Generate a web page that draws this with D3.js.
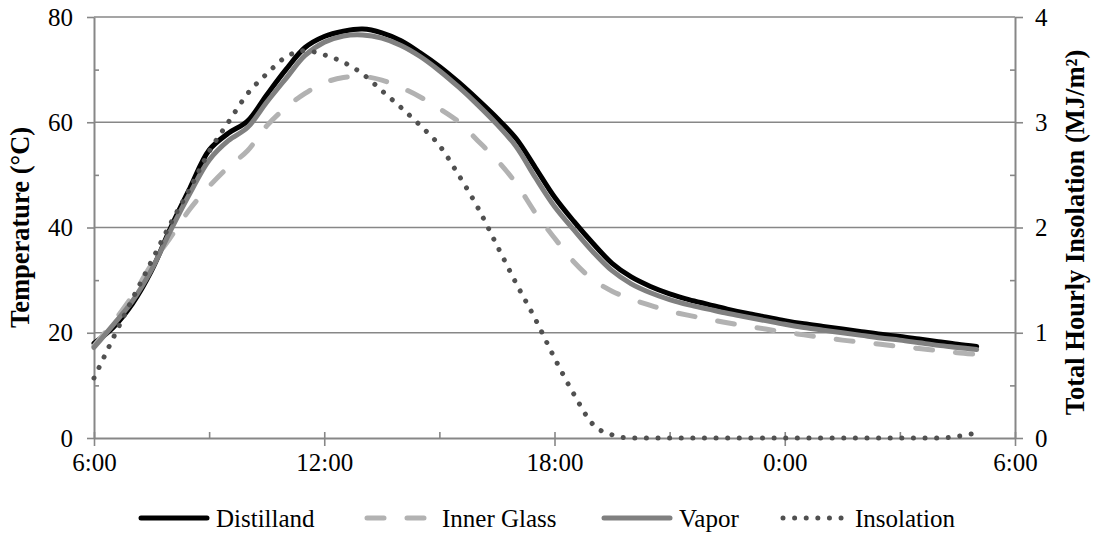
<!DOCTYPE html>
<html>
<head>
<meta charset="utf-8">
<script src="https://cdn.jsdelivr.net/npm/d3@7"></script>
<style>
  body { margin: 0; background: #fff; }
  svg text { font-family: "Liberation Serif", "Times New Roman", serif; fill: #000; }
</style>
</head>
<body>
<svg id="chart"></svg>
<script>
// hours after 6:00 (half-hour steps)
var hours = d3.range(0, 23.01, 0.5);

var distilland = [18.0, 21.0, 25.5, 31.8, 40.0, 47.5, 54.7, 57.9, 60.2, 65.2, 70.0, 74.2,
  76.3, 77.3, 77.7, 77.0, 75.5, 73.2, 70.6, 67.6, 64.3, 60.8, 56.9, 51.4, 45.8, 41.2,
  37.0, 33.2, 30.6, 28.8, 27.4, 26.3, 25.4, 24.5, 23.7, 23.0, 22.3, 21.7, 21.2, 20.7,
  20.2, 19.7, 19.3, 18.8, 18.3, 17.8, 17.4];

var innerGlass = [17.5, 22.0, 27.0, 33.0, 38.2, 43.5, 47.8, 51.5, 54.6, 59.3, 62.8, 65.5,
  67.5, 68.5, 68.7, 68.0, 66.6, 64.8, 62.6, 60.1, 56.5, 52.8, 48.4, 42.8, 38.0, 33.5,
  30.1, 27.9, 26.4, 25.2, 24.1, 23.3, 22.6, 21.9, 21.3, 20.7, 20.1, 19.6, 19.1, 18.6,
  18.2, 17.8, 17.4, 17.0, 16.6, 16.2, 15.9];

var vapor = [17.2, 21.5, 26.0, 32.0, 39.5, 46.5, 52.8, 56.5, 59.0, 63.8, 68.3, 72.7,
  75.2, 76.4, 76.6, 76.0, 74.6, 72.5, 69.8, 66.7, 63.3, 59.6, 55.4, 49.5, 44.0, 39.6,
  35.4, 31.8, 29.3, 27.6, 26.3, 25.3, 24.5, 23.7, 23.0, 22.3, 21.6, 21.0, 20.5, 20.0,
  19.5, 19.0, 18.6, 18.1, 17.6, 17.2, 16.8];

// MJ/m2, secondary axis
var insolation = [0.57, 0.95, 1.32, 1.68, 2.04, 2.37, 2.72, 3.00, 3.27, 3.46, 3.62, 3.68,
  3.64, 3.57, 3.46, 3.30, 3.14, 2.97, 2.78, 2.50, 2.19, 1.83, 1.47, 1.13, 0.76, 0.42,
  0.13, 0.03, 0, 0, 0, 0, 0, 0, 0, 0, 0, 0, 0, 0,
  0, 0, 0, 0, 0, 0.015, 0.05];

var xTickLabels = ["6:00", "12:00", "18:00", "0:00", "6:00"];
var seriesNames = ["Distilland", "Inner Glass", "Vapor", "Insolation"];

var W = 1094, H = 544;
var margin = {top: 17, right: 79, bottom: 106, left: 94};
var width = W - margin.left - margin.right;
var height = H - margin.top - margin.bottom;
var axisColor = "#878787";
var serif = "'Liberation Serif', 'Times New Roman', serif";

var svg = d3.select("#chart").attr("width", W).attr("height", H);
var g = svg.append("g").attr("transform", "translate(" + margin.left + "," + margin.top + ")");

var x = d3.scaleLinear().domain([0, 24]).range([0, width]);
var y = d3.scaleLinear().domain([0, 80]).range([height, 0]);
var y2 = d3.scaleLinear().domain([0, 4]).range([height, 0]);

// grid
g.append("g").selectAll("line")
  .data([20, 40, 60, 80])
  .join("line")
  .attr("x1", 0).attr("x2", width)
  .attr("y1", function(d) { return y(d); }).attr("y2", function(d) { return y(d); })
  .attr("stroke", axisColor).attr("stroke-width", 1.6);

// minor ticks (inside)
var minorStyle = function(sel) {
  sel.select(".domain").remove();
  sel.selectAll(".tick line").attr("stroke", axisColor).attr("stroke-width", 1.6);
  sel.selectAll(".tick text").remove();
};
g.append("g").call(d3.axisLeft(y).tickValues([10, 30, 50, 70]).tickSize(-5)).call(minorStyle);
g.append("g").attr("transform", "translate(" + width + ",0)")
  .call(d3.axisRight(y2).tickValues([0.5, 1.5, 2.5, 3.5]).tickSize(-5)).call(minorStyle);
g.append("g").attr("transform", "translate(0," + height + ")")
  .call(d3.axisBottom(x).tickValues([3, 9, 15, 21]).tickSize(-6)).call(minorStyle);

var majorStyle = function(sel) {
  sel.attr("font-family", serif).attr("font-size", 25);
  sel.select(".domain").attr("stroke", axisColor).attr("stroke-width", 2);
  sel.selectAll(".tick line").attr("stroke", axisColor).attr("stroke-width", 1.6);
  sel.selectAll(".tick text").attr("fill", "#000");
};

// left axis
g.append("g")
  .call(d3.axisLeft(y).tickValues([0, 20, 40, 60, 80]).tickSize(7).tickSizeOuter(0).tickPadding(14))
  .call(majorStyle);

// right axis
g.append("g").attr("transform", "translate(" + width + ",0)")
  .call(d3.axisRight(y2).tickValues([0, 1, 2, 3, 4]).tickFormat(d3.format("d"))
    .tickSize(8).tickSizeOuter(0).tickPadding(12))
  .call(majorStyle);

// bottom axis (ticks cross)
var xAx = g.append("g").attr("transform", "translate(0," + height + ")")
  .call(d3.axisBottom(x).tickValues([0, 6, 12, 18, 24])
    .tickFormat(function(d, i) { return xTickLabels[i]; })
    .tickSize(8).tickSizeOuter(0).tickPadding(7))
  .call(majorStyle);
xAx.selectAll(".tick line").attr("y1", -6);

// axis titles
svg.append("text")
  .attr("transform", "translate(29," + (margin.top + height / 2) + ") rotate(-90)")
  .attr("text-anchor", "middle")
  .attr("font-family", serif)
  .attr("font-size", 26.5).attr("font-weight", "bold")
  .text("Temperature (°C)");

svg.append("text")
  .attr("transform", "translate(1084," + (margin.top + height / 2 + 5) + ") rotate(-90)")
  .attr("text-anchor", "middle")
  .attr("font-family", serif)
  .attr("font-size", 26.5).attr("font-weight", "bold")
  .text("Total Hourly Insolation (MJ/m²)");

// lines
var lineT = d3.line()
  .x(function(d, i) { return x(hours[i]); })
  .y(function(d) { return y(d); })
  .curve(d3.curveCatmullRom);
var lineI = d3.line()
  .x(function(d, i) { return x(hours[i]); })
  .y(function(d) { return y2(Math.max(d, 0)); })
  .curve(d3.curveMonotoneX);

var styles = [
  {stroke: "#000000", width: 5, dash: null, cap: "round"},
  {stroke: "#b2b2b2", width: 5, dash: "17,23", cap: "round"},
  {stroke: "#808080", width: 5, dash: null, cap: "round"},
  {stroke: "#505050", width: 5, dash: "0.01,11.6", cap: "round"}
];

[distilland, innerGlass, vapor].forEach(function(data, k) {
  g.append("path")
    .datum(data)
    .attr("d", lineT)
    .attr("fill", "none")
    .attr("stroke", styles[k].stroke)
    .attr("stroke-width", styles[k].width)
    .attr("stroke-dasharray", styles[k].dash)
    .attr("stroke-linecap", styles[k].cap)
    .attr("stroke-linejoin", "round");
});

g.append("path")
  .datum(insolation)
  .attr("d", lineI)
  .attr("fill", "none")
  .attr("stroke", styles[3].stroke)
  .attr("stroke-width", styles[3].width)
  .attr("stroke-dasharray", styles[3].dash)
  .attr("stroke-linecap", "round");

// legend
var legendY = 518;
var legendX = [139, 365, 602, 783];
var legend = svg.append("g").attr("font-family", serif);
seriesNames.forEach(function(name, k) {
  var x0 = legendX[k];
  legend.append("line")
    .attr("x1", x0 + (k === 3 ? 0 : 2)).attr("x2", x0 + (k === 3 ? 60 : 68))
    .attr("y1", legendY).attr("y2", legendY)
    .attr("stroke", styles[k].stroke)
    .attr("stroke-width", styles[k].width)
    .attr("stroke-dasharray", styles[k].dash)
    .attr("stroke-linecap", styles[k].cap);
  legend.append("text")
    .attr("x", x0 + (k === 3 ? 72 : 77)).attr("y", legendY)
    .attr("dy", "0.35em")
    .attr("font-size", 25)
    .text(name);
});
</script>
</body>
</html>
